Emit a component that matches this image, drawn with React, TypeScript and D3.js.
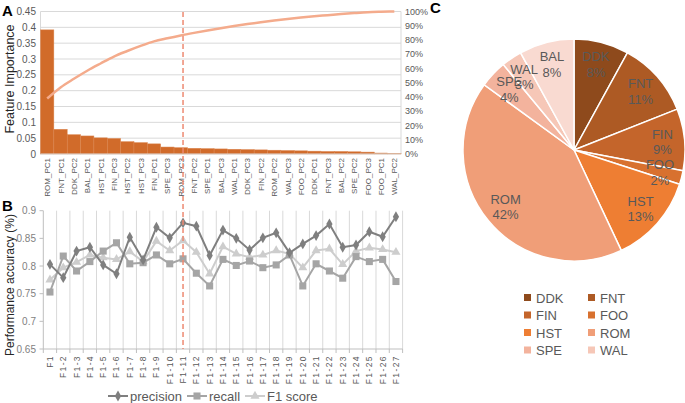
import React from 'react';
import * as d3 from 'd3';

const features = ['ROM_PC1','FNT_PC1','DDK_PC2','BAL_PC1','HST_PC1','FIN_PC3','HST_PC2','HST_PC3','FIN_PC1','SPE_PC3','ROM_PC3','FNT_PC2','SPE_PC1','BAL_PC3','WAL_PC1','DDK_PC3','FIN_PC2','ROM_PC2','WAL_PC3','FOO_PC2','DDK_PC1','FNT_PC3','BAL_PC2','SPE_PC2','FOO_PC3','FOO_PC1','WAL_PC2'];
const importance = [0.392,0.078,0.061,0.057,0.051,0.049,0.039,0.036,0.032,0.022,0.020,0.018,0.017,0.016,0.015,0.014,0.013,0.012,0.011,0.010,0.009,0.008,0.008,0.007,0.006,0.003,0.002];
const yTicksA = [0,0.05,0.1,0.15,0.2,0.25,0.3,0.35,0.4,0.45];
const pctTicks = [0,10,20,30,40,50,60,70,80,90,100];

const subsets = ['F1','F1-2','F1-3','F1-4','F1-5','F1-6','F1-7','F1-8','F1-9','F1-10','F1-11','F1-12','F1-13','F1-14','F1-15','F1-16','F1-17','F1-18','F1-19','F1-20','F1-21','F1-22','F1-23','F1-24','F1-25','F1-26','F1-27'];
const precision = [0.803,0.779,0.827,0.834,0.802,0.786,0.852,0.811,0.870,0.851,0.878,0.872,0.819,0.865,0.850,0.829,0.851,0.860,0.824,0.840,0.855,0.876,0.834,0.838,0.862,0.853,0.889];
const recall = [0.753,0.818,0.791,0.808,0.827,0.842,0.804,0.806,0.820,0.804,0.813,0.787,0.764,0.812,0.801,0.809,0.797,0.802,0.820,0.764,0.804,0.791,0.778,0.817,0.808,0.812,0.772];
const f1score = [0.775,0.797,0.807,0.820,0.815,0.812,0.826,0.808,0.845,0.828,0.846,0.825,0.786,0.835,0.822,0.816,0.820,0.828,0.822,0.797,0.828,0.831,0.803,0.827,0.833,0.830,0.825];
const yTicksB = [0.65,0.7,0.75,0.8,0.85,0.9];
const selectedIndex = 10;

const pieCats = ['DDK','FNT','FIN','FOO','HST','ROM','SPE','WAL','BAL'];
const piePct = [8,11,9,2,13,42,4,3,8];
const pieColors = ['#8E4A1C','#AD5A24','#C4652B','#D8712F','#EE7E33','#F09E78','#F3B39D','#F6C7B7','#F9DAD1'];
const legendCats = ['DDK','FNT','FIN','FOO','HST','ROM','SPE','WAL'];

const FONT = '"Liberation Sans", Arial, sans-serif';
const TXT = '#595959';

export default function App() {
  // Panel A
  const xA = d3.scaleBand<string>().domain(features).range([40.5, 401]).paddingInner(0).paddingOuter(0);
  const yA = d3.scaleLinear().domain([0, 0.45]).range([154, 11.5]);
  const yPct = d3.scaleLinear().domain([0, 100]).range([154, 11.5]);
  const total = d3.sum(importance);
  const cum = d3.cumsum(importance).map(v => (v / total) * 100);
  const cumLine = d3.line<number>()
    .x((_, i) => (xA(features[i]) as number) + xA.bandwidth() / 2)
    .y(v => yPct(v))
    .curve(d3.curveMonotoneX);

  // Panel B
  const xB = d3.scaleBand<string>().domain(subsets).range([43.3, 402.6]);
  const yB = d3.scaleLinear().domain([0.65, 0.9]).range([349, 210.7]);
  const cx = (i: number) => (xB(subsets[i]) as number) + xB.bandwidth() / 2;
  const lineB = d3.line<number>().x((_, i) => cx(i)).y(v => yB(v));
  const diamond = d3.symbol().type(d3.symbolDiamond).size(34)()!;
  const square = d3.symbol().type(d3.symbolSquare).size(50)()!;
  const triangle = d3.symbol().type(d3.symbolTriangle).size(36)()!;
  const seriesB = [
    { name: 'F1 score', vals: f1score, color: '#CDCDCD', sym: triangle },
    { name: 'recall', vals: recall, color: '#A5A5A5', sym: square },
    { name: 'precision', vals: precision, color: '#7F7F7F', sym: diamond },
  ];
  const dashX = cx(selectedIndex);

  // Panel C
  const pieCx = 574, pieCy = 150, pieR = 111;
  const pie = d3.pie<number>().sort(null).value(d => d)(piePct);
  const arc = d3.arc<d3.PieArcDatum<number>>().innerRadius(0).outerRadius(pieR);
  const labelArc = d3.arc<d3.PieArcDatum<number>>().innerRadius(pieR * 0.8).outerRadius(pieR * 0.8);

  const legendB = [
    { name: 'precision', color: '#7F7F7F', sym: diamond, x0: 108 },
    { name: 'recall', color: '#A5A5A5', sym: square, x0: 187 },
    { name: 'F1 score', color: '#CDCDCD', sym: triangle, x0: 245 },
  ];

  return (
    <svg width={685} height={403} style={{ position: 'absolute', left: 0, top: 0, display: 'block', background: '#fff' }} fontFamily={FONT}>
      {/* Panel labels */}
      <text x={2} y={16} fontSize={15} fontWeight="bold" fill="#000">A</text>
      <text x={2} y={211} fontSize={15} fontWeight="bold" fill="#000">B</text>
      <text x={430} y={13} fontSize={15} fontWeight="bold" fill="#000">C</text>

      {/* Panel A grid */}
      {yTicksA.map(t => (
        <g key={'ga' + t}>
          {t > 0 && <line x1={40.5} x2={401} y1={yA(t)} y2={yA(t)} stroke="#D9D9D9" strokeWidth={1} />}
          <text x={36} y={yA(t) + 3.5} fontSize={10} fill={TXT} textAnchor="end">{String(+t.toFixed(2))}</text>
        </g>
      ))}
      {pctTicks.map(t => (
        <text key={'pa' + t} x={405} y={yPct(t) + 3.2} fontSize={9} fill={TXT}>{t + '%'}</text>
      ))}
      <line x1={40.5} x2={40.5} y1={11.5} y2={154} stroke="#D9D9D9" />
      <line x1={401} x2={401} y1={11.5} y2={154} stroke="#D9D9D9" />
      {features.map((f, i) => (
        <rect key={f} x={xA(f) as number} y={yA(importance[i])} width={xA.bandwidth()} height={154 - yA(importance[i])} fill="#D16B2A" stroke="#DB8650" strokeWidth={0.5} />
      ))}
      <line x1={40.5} x2={401} y1={154} y2={154} stroke="#D9D9D9" />
      <path d={cumLine(cum) as string} fill="none" stroke="#F4AB8C" strokeWidth={2.5} />
      {features.map(f => (
        <text key={'la' + f} transform={`translate(${(xA(f) as number) + xA.bandwidth() / 2 + 3},158) rotate(-90)`} fontSize={8} fill={TXT} textAnchor="end">{f}</text>
      ))}
      <text transform="translate(14,79) rotate(-90)" fontSize={12.5} fill="#262626" textAnchor="middle">Feature Importance</text>

      {/* Panel B */}
      {d3.range(subsets.length + 1).map(i => {
        const x = 43.3 + i * xB.step();
        return (
          <g key={'vg' + i}>
            {i > 0 && <line x1={x} x2={x} y1={210.7} y2={349} stroke="#D9D9D9" />}
            <line x1={x} x2={x} y1={349} y2={353} stroke="#BFBFBF" />
          </g>
        );
      })}
      <line x1={43.3} x2={43.3} y1={210.7} y2={349} stroke="#BFBFBF" />
      <line x1={43.3} x2={402.6} y1={349} y2={349} stroke="#BFBFBF" />
      {yTicksB.map(t => (
        <g key={'yb' + t}>
          <line x1={39.5} x2={43.3} y1={yB(t)} y2={yB(t)} stroke="#BFBFBF" />
          <text x={36} y={yB(t) + 3.5} fontSize={10} fill="#7F7F7F" textAnchor="end">{String(+t.toFixed(2))}</text>
        </g>
      ))}
      {subsets.map((s, i) => (
        <text key={'lb' + s} transform={`translate(${cx(i) + 3},355) rotate(-90)`} fontSize={8.5} letterSpacing={1.4} fill={TXT} textAnchor="end">{s}</text>
      ))}
      {seriesB.map(s => (
        <g key={s.name}>
          <path d={lineB(s.vals) as string} fill="none" stroke={s.color} strokeWidth={2} />
          {s.vals.map((v, i) => (
            <path key={i} d={s.sym} transform={`translate(${cx(i)},${yB(v)})`} fill={s.color} />
          ))}
        </g>
      ))}
      <text transform="translate(14,285) rotate(-90)" fontSize={12} fill="#262626" textAnchor="middle">Performance accuracy (%)</text>
      {legendB.map(l => (
        <g key={'lgb' + l.name}>
          <line x1={l.x0} x2={l.x0 + 20} y1={396} y2={396} stroke={l.color} strokeWidth={2} />
          <path d={l.sym} transform={`translate(${l.x0 + 10},396)`} fill={l.color} />
          <text x={l.x0 + 22} y={400.5} fontSize={13} fill={TXT}>{l.name}</text>
        </g>
      ))}

      {/* Dashed marker line */}
      <line x1={dashX} x2={dashX} y1={12} y2={349} stroke="#EE8A72" strokeWidth={1.5} strokeDasharray="5,3" />

      {/* Panel C */}
      <g transform={`translate(${pieCx},${pieCy})`}>
        {pie.map((p, i) => (
          <path key={'s' + i} d={arc(p) as string} fill={pieColors[i]} stroke="#fff" strokeWidth={1.5} />
        ))}
        {pie.map((p, i) => {
          const [lx, ly] = labelArc.centroid(p);
          return (
            <text key={'pl' + i} x={lx} y={ly} fontSize={13} fill={TXT} textAnchor="middle" fontFamily={FONT}>
              <tspan x={lx} dy={-3}>{pieCats[i]}</tspan>
              <tspan x={lx} dy={15.5}>{piePct[i] + '%'}</tspan>
            </text>
          );
        })}
      </g>
      {legendCats.map((c, i) => {
        const col = i % 2, row = Math.floor(i / 2);
        const x = 524 + col * 64;
        const y = 297.5 + row * 17.5;
        return (
          <g key={'lc' + c}>
            <rect x={x} y={y - 3.5} width={7} height={7} fill={pieColors[pieCats.indexOf(c)]} />
            <text x={x + 12} y={y + 5} fontSize={13} fill={TXT}>{c}</text>
          </g>
        );
      })}
    </svg>
  );
}
